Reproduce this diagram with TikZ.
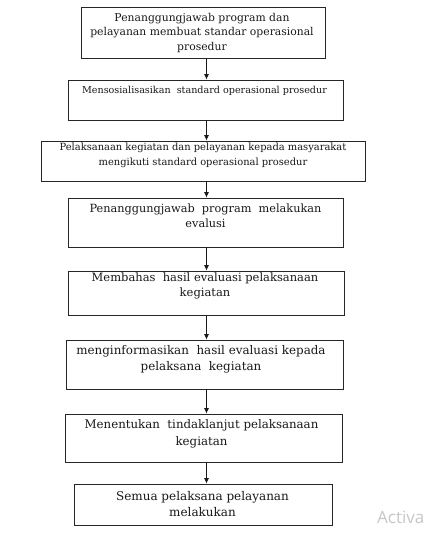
\documentclass[tikz,border=0pt]{standalone}
\usepackage{fontspec}
\setmainfont{DejaVu Serif}
\newfontfamily\wmfont{Open Sans}
\usetikzlibrary{arrows.meta}
\tikzset{
  box/.style={draw=black!85, line width=0.8pt, inner sep=0pt, fill=white},
  lbl/.style={anchor=north, inner sep=0pt, align=center, text=black!90},
  arr/.style={draw=black!90, line width=0.8pt, -{Latex[length=5.5pt,width=5pt]}},
  wm/.style={anchor=base west, inner sep=0pt, text=black!22, font=\wmfont\fontsize{17}{20}\selectfont}
}
\begin{document}
\begin{tikzpicture}[x=1pt,y=-1pt]
\clip (0,0) rectangle (423,538);
\useasboundingbox[fill=white] (0,0) rectangle (423,538);
\coordinate (ax) at (206.5,0);
% boxes
\node[box, minimum width=244pt, minimum height=51pt] (b1) at (203,32.5) {};
\node[box, minimum width=275pt, minimum height=40pt] (b2) at (205.5,100) {};
\node[box, minimum width=324pt, minimum height=40pt] (b3) at (203,161) {};
\node[box, minimum width=275pt, minimum height=49pt] (b4) at (205.5,222.5) {};
\node[box, minimum width=276pt, minimum height=44pt] (b5) at (206,293) {};
\node[box, minimum width=277pt, minimum height=49pt] (b6) at (204.5,364.5) {};
\node[box, minimum width=277pt, minimum height=48pt] (b7) at (203.5,438) {};
\node[box, minimum width=258pt, minimum height=41pt] (b8) at (203,504.5) {};
% texts
\node[lbl, font=\fontsize{10.8}{14.5}\selectfont] (t1) at (202,13) {Penanggungjawab program dan\\pelayanan membuat standar operasional\\prosedur};
\node[lbl, font=\fontsize{9.6}{14}\selectfont] (t2) at (204.5,86) {Mensosialisasikan\ \ standard operasional prosedur};
\node[lbl, font=\fontsize{9.9}{15}\selectfont] (t3) at (203,143) {Pelaksanaan kegiatan dan pelayanan kepada masyarakat\\mengikuti standard operasional prosedur};
\node[lbl, font=\fontsize{11.3}{15}\selectfont] (t4) at (205.5,204) {Penanggungjawab\ \ program\ \ melakukan\\evalusi};
\node[lbl, font=\fontsize{11.5}{15}\selectfont] (t5) at (205,272.5) {Membahas\ \ hasil evaluasi pelaksanaan\\kegiatan};
\node[lbl, font=\fontsize{11.9}{16}\selectfont] (t6) at (201,345) {menginformasikan\ \ hasil evaluasi kepada\\pelaksana\ \ kegiatan};
\node[lbl, font=\fontsize{11.8}{17}\selectfont] (t7) at (201.5,419) {Menentukan\ \ tindaklanjut pelaksanaan\\kegiatan};
\node[lbl, font=\fontsize{12}{16}\selectfont] (t8) at (202.5,491) {Semua pelaksana pelayanan\\melakukan};
% arrows
\draw[arr] (b1.south -| ax) -- (b2.north -| ax);
\draw[arr] (b2.south -| ax) -- (b3.north -| ax);
\draw[arr] (b3.south -| ax) -- (b4.north -| ax);
\draw[arr] (b4.south -| ax) -- (b5.north -| ax);
\draw[arr] (b5.south -| ax) -- (b6.north -| ax);
\draw[arr] (b6.south -| ax) -- (b7.north -| ax);
\draw[arr] (b7.south -| ax) -- (b8.north -| ax);
% watermark
\node[wm] (w1) at (377,523) {Activa};
\end{tikzpicture}
\end{document}
